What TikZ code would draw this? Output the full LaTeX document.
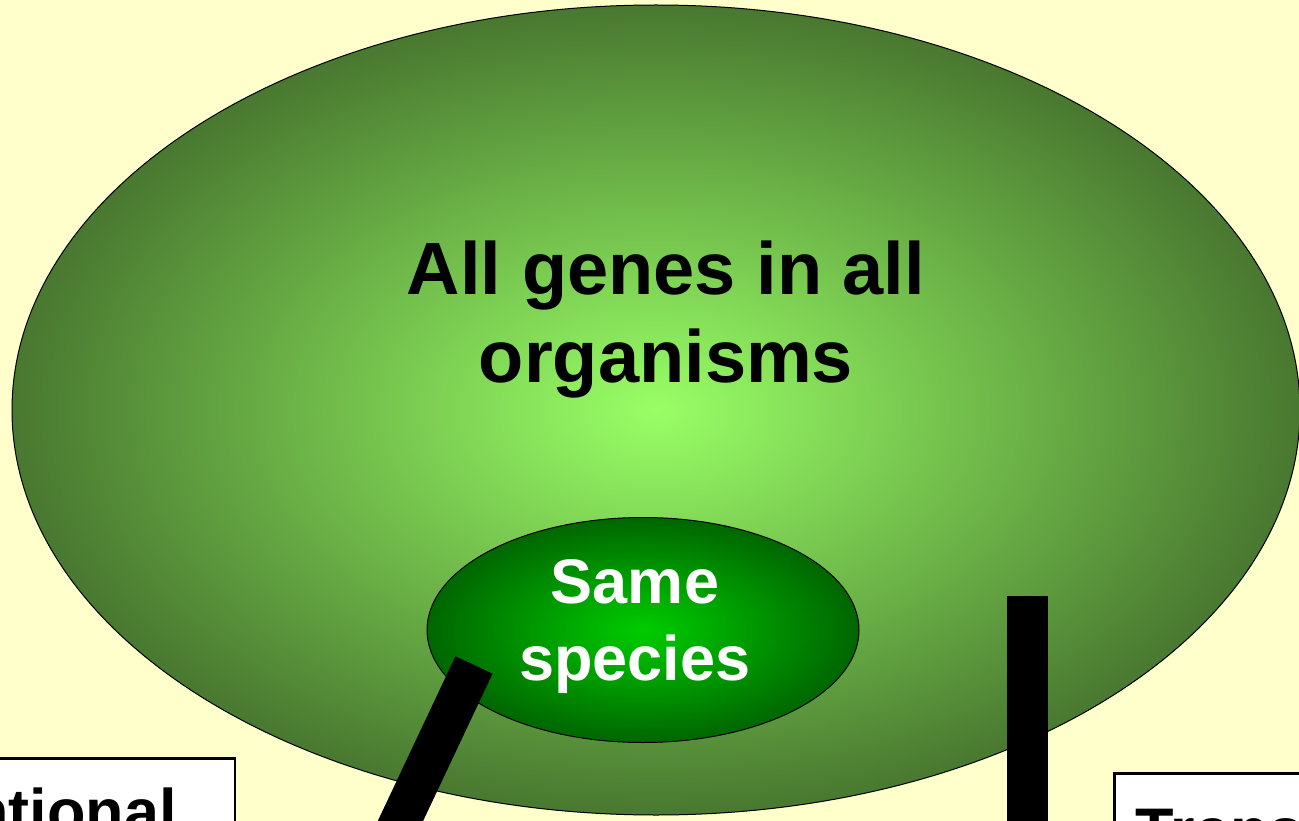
\documentclass[tikz,border=0pt]{standalone}
\usepackage{fontspec}
\setmainfont{Liberation Sans}
\usetikzlibrary{shapes.geometric,positioning}

\definecolor{slidebg}{HTML}{FFFFCC}
\definecolor{poolinner}{HTML}{99FF66}
\definecolor{poolouter}{HTML}{497830}
\definecolor{speciesinner}{HTML}{00CC00}
\definecolor{speciesouter}{HTML}{006600}

\tikzset{
    genepool/.style={ellipse, draw=black, line width=1pt, shade, inner sep=0pt},
    methodbox/.style={draw=black, fill=white, line width=2.5pt, font=\fontsize{63}{77}\selectfont\bfseries},
    stem/.style={line width=41pt, black}
}

\begin{document}
\begin{tikzpicture}[x=1pt,y=-1pt]

\useasboundingbox (0,0) rectangle (1299,821);
\clip (0,0) rectangle (1299,821);
\fill[slidebg] (0,0) rectangle (1299,821);

% Gene pools
\node[genepool, inner color=poolinner, outer color=poolouter,
      minimum width=1288pt, minimum height=810pt] (allgenes) at (656,410) {};
\node[font=\fontsize{74}{88}\selectfont\bfseries, align=center] (allgenestext) at (666,320) {All genes in all\\organisms};

\node[genepool, inner color=speciesinner, outer color=speciesouter,
      minimum width=432pt, minimum height=225pt] (species) at (643,630) {};
\node[font=\fontsize{63}{77}\selectfont\bfseries, text=white, align=center] (speciestext) at (635,627) {Same\\species};

% Reach of each method
\coordinate (convtop) at (474,665);
\coordinate (convfoot) at (316,1000);
\draw[stem] (convtop) -- (convfoot);

\coordinate (transtop) at (1027.5,596);
\coordinate (transfoot) at (1027.5,1000);
\draw[stem] (transtop) -- (transfoot);

% Breeding methods
\node[methodbox, anchor=north east, inner xsep=58pt, inner ysep=30pt] (conv) at (236,757) {Conventional};
\node[methodbox, anchor=north west, inner xsep=21.5pt, inner ysep=34pt] (trans) at (1113,772) {Transgenic};

\end{tikzpicture}
\end{document}
